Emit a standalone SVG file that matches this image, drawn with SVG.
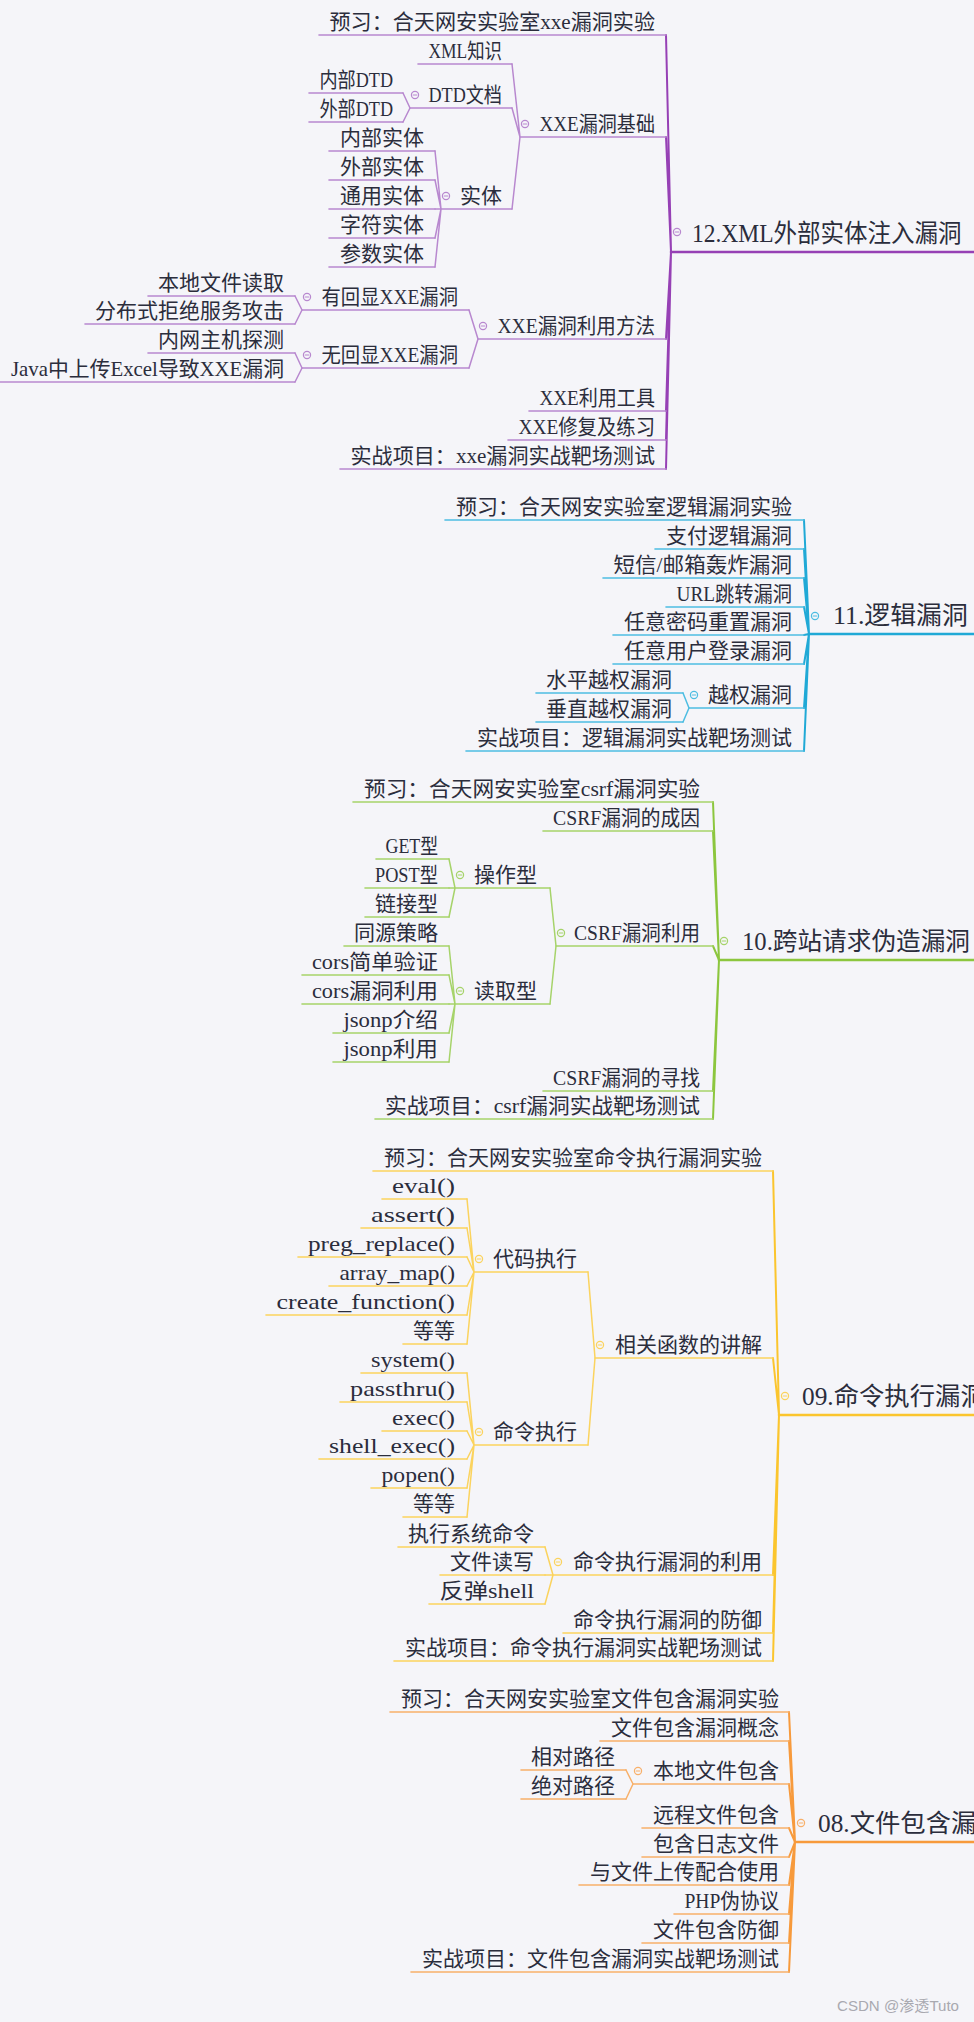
<svg xmlns="http://www.w3.org/2000/svg" xmlns:xlink="http://www.w3.org/1999/xlink" width="974" height="2022" viewBox="0 0 974 2022">
<style>
text{font-family:"Liberation Serif","Noto Sans CJK SC",serif;font-size:21px;fill:#2b2d3c}
text.m{font-size:24.5px}
text.wm{font-family:"Liberation Sans","Noto Sans CJK SC",sans-serif;font-size:15px;fill:#a9a9b0}
line,path{fill:none;stroke-linecap:round}
.k12 .u{stroke:#b888cf;stroke-width:1.6}.k12 .mu{stroke:#9640b5;stroke-width:2.6}.k12 .sp{stroke:#9640b5;stroke-width:2}.k12 .cn{stroke:#b888cf;stroke-width:1.5}.k12 .ci{stroke:#b888cf}
.k11 .u{stroke:#4dbde2;stroke-width:1.6}.k11 .mu{stroke:#20a9d6;stroke-width:2.6}.k11 .sp{stroke:#20a9d6;stroke-width:2}.k11 .cn{stroke:#4dbde2;stroke-width:1.5}.k11 .ci{stroke:#4dbde2}
.k10 .u{stroke:#a6d36a;stroke-width:1.6}.k10 .mu{stroke:#8cc63e;stroke-width:2.6}.k10 .sp{stroke:#8cc63e;stroke-width:2}.k10 .cn{stroke:#a6d36a;stroke-width:1.5}.k10 .ci{stroke:#a6d36a}
.k09 .u{stroke:#fbd35e;stroke-width:1.6}.k09 .mu{stroke:#fbc52e;stroke-width:2.6}.k09 .sp{stroke:#fbc52e;stroke-width:2}.k09 .cn{stroke:#fbd35e;stroke-width:1.5}.k09 .ci{stroke:#fbd35e}
.k08 .u{stroke:#f8b06a;stroke-width:1.6}.k08 .mu{stroke:#f79a3c;stroke-width:2.6}.k08 .sp{stroke:#f79a3c;stroke-width:2}.k08 .cn{stroke:#f8b06a;stroke-width:1.5}.k08 .ci{stroke:#f8b06a}
.ci{fill:none;stroke-width:1.2}
</style>
<defs>
<g id="col"><circle r="3.6"/><path d="M-1.8 0H1.8"/></g>
</defs>
<rect width="974" height="2022" fill="#f5f5f9"/>

<!-- ================= Section 12 ================= -->
<g class="k12">
<g id="connectors-12">
<path class="sp" d="M671 252L666 35M671 252L666 137M671 252L666 339M671 252L666 411M671 252L666 440M671 252L666 469"/>
<path class="cn" d="M520 137L512 64M520 137L512 108M520 137L512 209"/>
<path class="cn" d="M410 108L403 93M410 108L403 122"/>
<path class="cn" d="M441 209L435 151M441 209L435 180M441 209L435 209M441 209L435 238M441 209L435 267"/>
<path class="cn" d="M478 339L469 310M478 339L469 368"/>
<path class="cn" d="M302 310L295 296M302 310L295 324"/>
<path class="cn" d="M302 368L295 353M302 368L295 382"/>
</g>
<g id="n12"><line class="mu" x1="671" y1="252" x2="974" y2="252"/><use href="#col" class="ci" x="677" y="232"/><text class="m" x="692" y="242" textLength="269.5" lengthAdjust="spacingAndGlyphs">12.XML外部实体注入漏洞</text></g>
<g id="n12-pre"><line class="u" x1="319" y1="35" x2="666" y2="35"/><text x="329.5" y="29" textLength="325.5" lengthAdjust="spacingAndGlyphs">预习：合天网安实验室xxe漏洞实验</text></g>
<g id="n12-base"><line class="u" x1="520" y1="137" x2="666" y2="137"/><use href="#col" class="ci" x="525" y="124"/><text x="539.5" y="131" textLength="115.5" lengthAdjust="spacingAndGlyphs">XXE漏洞基础</text></g>
<g id="n12-xml"><line class="u" x1="418" y1="64" x2="512" y2="64"/><text x="428.5" y="58" textLength="73.5" lengthAdjust="spacingAndGlyphs">XML知识</text></g>
<g id="n12-dtd"><line class="u" x1="410" y1="108" x2="512" y2="108"/><use href="#col" class="ci" x="415" y="95"/><text x="428.5" y="102" textLength="73.5" lengthAdjust="spacingAndGlyphs">DTD文档</text></g>
<g id="n12-dtd-in"><line class="u" x1="309" y1="93" x2="403" y2="93"/><text x="319.5" y="87" textLength="73.5" lengthAdjust="spacingAndGlyphs">内部DTD</text></g>
<g id="n12-dtd-out"><line class="u" x1="309" y1="122" x2="403" y2="122"/><text x="319.5" y="116" textLength="73.5" lengthAdjust="spacingAndGlyphs">外部DTD</text></g>
<g id="n12-ent"><line class="u" x1="441" y1="209" x2="512" y2="209"/><use href="#col" class="ci" x="446" y="196"/><text x="460" y="203" textLength="42" lengthAdjust="spacingAndGlyphs">实体</text></g>
<g id="n12-ent1"><line class="u" x1="329" y1="151" x2="435" y2="151"/><text x="340" y="145" textLength="84" lengthAdjust="spacingAndGlyphs">内部实体</text></g>
<g id="n12-ent2"><line class="u" x1="329" y1="180" x2="435" y2="180"/><text x="340" y="174" textLength="84" lengthAdjust="spacingAndGlyphs">外部实体</text></g>
<g id="n12-ent3"><line class="u" x1="329" y1="209" x2="435" y2="209"/><text x="340" y="203" textLength="84" lengthAdjust="spacingAndGlyphs">通用实体</text></g>
<g id="n12-ent4"><line class="u" x1="329" y1="238" x2="435" y2="238"/><text x="340" y="232" textLength="84" lengthAdjust="spacingAndGlyphs">字符实体</text></g>
<g id="n12-ent5"><line class="u" x1="329" y1="267" x2="435" y2="267"/><text x="340" y="261" textLength="84" lengthAdjust="spacingAndGlyphs">参数实体</text></g>
<g id="n12-use"><line class="u" x1="478" y1="339" x2="666" y2="339"/><use href="#col" class="ci" x="483" y="326"/><text x="497.5" y="333" textLength="157.5" lengthAdjust="spacingAndGlyphs">XXE漏洞利用方法</text></g>
<g id="n12-echo"><line class="u" x1="302" y1="310" x2="469" y2="310"/><use href="#col" class="ci" x="307" y="297"/><text x="321.5" y="304" textLength="136.5" lengthAdjust="spacingAndGlyphs">有回显XXE漏洞</text></g>
<g id="n12-echo1"><line class="u" x1="148" y1="296" x2="295" y2="296"/><text x="158" y="290" textLength="126" lengthAdjust="spacingAndGlyphs">本地文件读取</text></g>
<g id="n12-echo2"><line class="u" x1="85" y1="324" x2="295" y2="324"/><text x="95" y="318" textLength="189" lengthAdjust="spacingAndGlyphs">分布式拒绝服务攻击</text></g>
<g id="n12-blind"><line class="u" x1="302" y1="368" x2="469" y2="368"/><use href="#col" class="ci" x="307" y="355"/><text x="321.5" y="362" textLength="136.5" lengthAdjust="spacingAndGlyphs">无回显XXE漏洞</text></g>
<g id="n12-blind1"><line class="u" x1="148" y1="353" x2="295" y2="353"/><text x="158" y="347" textLength="126" lengthAdjust="spacingAndGlyphs">内网主机探测</text></g>
<g id="n12-blind2"><line class="u" x1="0" y1="382" x2="295" y2="382"/><text x="11" y="376" textLength="273" lengthAdjust="spacingAndGlyphs">Java中上传Excel导致XXE漏洞</text></g>
<g id="n12-tool"><line class="u" x1="529" y1="411" x2="666" y2="411"/><text x="539.5" y="405" textLength="115.5" lengthAdjust="spacingAndGlyphs">XXE利用工具</text></g>
<g id="n12-fix"><line class="u" x1="508" y1="440" x2="666" y2="440"/><text x="518.5" y="434" textLength="136.5" lengthAdjust="spacingAndGlyphs">XXE修复及练习</text></g>
<g id="n12-proj"><line class="u" x1="340" y1="469" x2="666" y2="469"/><text x="350.5" y="463" textLength="304.5" lengthAdjust="spacingAndGlyphs">实战项目：xxe漏洞实战靶场测试</text></g>
</g>

<!-- ================= Section 11 ================= -->
<g class="k11">
<g id="connectors-11">
<path class="sp" d="M809 634L804 520M809 634L804 549M809 634L804 578M809 634L804 607M809 634L804 635M809 634L804 664M809 634L804 708M809 634L804 751"/>
<path class="cn" d="M689 708L683 693M689 708L683 722"/>
</g>
<g id="n11"><line class="mu" x1="809" y1="634" x2="974" y2="634"/><use href="#col" class="ci" x="815" y="616"/><text class="m" x="833" y="624" textLength="134.75" lengthAdjust="spacingAndGlyphs">11.逻辑漏洞</text></g>
<g id="n11-pre"><line class="u" x1="445" y1="520" x2="804" y2="520"/><text x="456" y="514" textLength="336" lengthAdjust="spacingAndGlyphs">预习：合天网安实验室逻辑漏洞实验</text></g>
<g id="n11-pay"><line class="u" x1="655" y1="549" x2="804" y2="549"/><text x="666" y="543" textLength="126" lengthAdjust="spacingAndGlyphs">支付逻辑漏洞</text></g>
<g id="n11-sms"><line class="u" x1="603" y1="578" x2="804" y2="578"/><text x="613.5" y="572" textLength="178.5" lengthAdjust="spacingAndGlyphs">短信/邮箱轰炸漏洞</text></g>
<g id="n11-url"><line class="u" x1="666" y1="607" x2="804" y2="607"/><text x="676.5" y="601" textLength="115.5" lengthAdjust="spacingAndGlyphs">URL跳转漏洞</text></g>
<g id="n11-pwd"><line class="u" x1="613" y1="635" x2="804" y2="635"/><text x="624" y="629" textLength="168" lengthAdjust="spacingAndGlyphs">任意密码重置漏洞</text></g>
<g id="n11-login"><line class="u" x1="613" y1="664" x2="804" y2="664"/><text x="624" y="658" textLength="168" lengthAdjust="spacingAndGlyphs">任意用户登录漏洞</text></g>
<g id="n11-priv"><line class="u" x1="689" y1="708" x2="804" y2="708"/><use href="#col" class="ci" x="694" y="695"/><text x="708" y="702" textLength="84" lengthAdjust="spacingAndGlyphs">越权漏洞</text></g>
<g id="n11-priv-h"><line class="u" x1="536" y1="693" x2="683" y2="693"/><text x="546" y="687" textLength="126" lengthAdjust="spacingAndGlyphs">水平越权漏洞</text></g>
<g id="n11-priv-v"><line class="u" x1="536" y1="722" x2="683" y2="722"/><text x="546" y="716" textLength="126" lengthAdjust="spacingAndGlyphs">垂直越权漏洞</text></g>
<g id="n11-proj"><line class="u" x1="466" y1="751" x2="804" y2="751"/><text x="477" y="745" textLength="315" lengthAdjust="spacingAndGlyphs">实战项目：逻辑漏洞实战靶场测试</text></g>
</g>

<!-- ================= Section 10 ================= -->
<g class="k10">
<g id="connectors-10">
<path class="sp" d="M719 960L713 802M719 960L713 831M719 960L713 946M719 960L713 1091M719 960L713 1119"/>
<path class="cn" d="M556 946L550 888M556 946L550 1004"/>
<path class="cn" d="M455 888L449 859M455 888L449 888M455 888L449 917"/>
<path class="cn" d="M455 1004L449 946M455 1004L449 975M455 1004L449 1004M455 1004L449 1033M455 1004L449 1062"/>
</g>
<g id="n10"><line class="mu" x1="719" y1="960" x2="974" y2="960"/><use href="#col" class="ci" x="724" y="941"/><text class="m" x="742" y="950" textLength="228" lengthAdjust="spacingAndGlyphs">10.跨站请求伪造漏洞</text></g>
<g id="n10-pre"><line class="u" x1="353" y1="802" x2="713" y2="802"/><text x="364" y="796" textLength="336" lengthAdjust="spacingAndGlyphs">预习：合天网安实验室csrf漏洞实验</text></g>
<g id="n10-cause"><line class="u" x1="543" y1="831" x2="713" y2="831"/><text x="553" y="825" textLength="147" lengthAdjust="spacingAndGlyphs">CSRF漏洞的成因</text></g>
<g id="n10-use"><line class="u" x1="556" y1="946" x2="713" y2="946"/><use href="#col" class="ci" x="561" y="933"/><text x="574" y="940" textLength="126" lengthAdjust="spacingAndGlyphs">CSRF漏洞利用</text></g>
<g id="n10-op"><line class="u" x1="455" y1="888" x2="550" y2="888"/><use href="#col" class="ci" x="460" y="875"/><text x="474" y="882" textLength="63" lengthAdjust="spacingAndGlyphs">操作型</text></g>
<g id="n10-op1"><line class="u" x1="376" y1="859" x2="449" y2="859"/><text x="385.5" y="853" textLength="52.5" lengthAdjust="spacingAndGlyphs">GET型</text></g>
<g id="n10-op2"><line class="u" x1="365" y1="888" x2="449" y2="888"/><text x="375" y="882" textLength="63" lengthAdjust="spacingAndGlyphs">POST型</text></g>
<g id="n10-op3"><line class="u" x1="365" y1="917" x2="449" y2="917"/><text x="375" y="911" textLength="63" lengthAdjust="spacingAndGlyphs">链接型</text></g>
<g id="n10-rd"><line class="u" x1="455" y1="1004" x2="550" y2="1004"/><use href="#col" class="ci" x="460" y="991"/><text x="474" y="998" textLength="63" lengthAdjust="spacingAndGlyphs">读取型</text></g>
<g id="n10-rd1"><line class="u" x1="344" y1="946" x2="449" y2="946"/><text x="354" y="940" textLength="84" lengthAdjust="spacingAndGlyphs">同源策略</text></g>
<g id="n10-rd2"><line class="u" x1="302" y1="975" x2="449" y2="975"/><text x="312" y="969" textLength="126" lengthAdjust="spacingAndGlyphs">cors简单验证</text></g>
<g id="n10-rd3"><line class="u" x1="302" y1="1004" x2="449" y2="1004"/><text x="312" y="998" textLength="126" lengthAdjust="spacingAndGlyphs">cors漏洞利用</text></g>
<g id="n10-rd4"><line class="u" x1="333" y1="1033" x2="449" y2="1033"/><text x="343.5" y="1027" textLength="94.5" lengthAdjust="spacingAndGlyphs">jsonp介绍</text></g>
<g id="n10-rd5"><line class="u" x1="333" y1="1062" x2="449" y2="1062"/><text x="343.5" y="1056" textLength="94.5" lengthAdjust="spacingAndGlyphs">jsonp利用</text></g>
<g id="n10-find"><line class="u" x1="543" y1="1091" x2="713" y2="1091"/><text x="553" y="1085" textLength="147" lengthAdjust="spacingAndGlyphs">CSRF漏洞的寻找</text></g>
<g id="n10-proj"><line class="u" x1="375" y1="1119" x2="713" y2="1119"/><text x="385" y="1113" textLength="315" lengthAdjust="spacingAndGlyphs">实战项目：csrf漏洞实战靶场测试</text></g>
</g>

<!-- ================= Section 09 ================= -->
<g class="k09">
<g id="connectors-09">
<path class="sp" d="M779 1415L773 1171M779 1415L773 1358M779 1415L773 1575M779 1415L773 1633M779 1415L773 1661"/>
<path class="cn" d="M595 1358L588 1272M595 1358L588 1445"/>
<path class="cn" d="M474 1272L467 1199M474 1272L467 1228M474 1272L467 1257M474 1272L467 1286M474 1272L467 1315M474 1272L467 1344"/>
<path class="cn" d="M474 1445L467 1373M474 1445L467 1402M474 1445L467 1431M474 1445L467 1459M474 1445L467 1488M474 1445L467 1517"/>
<path class="cn" d="M553 1575L545 1547M553 1575L545 1575M553 1575L545 1604"/>
</g>
<g id="n09"><line class="mu" x1="779" y1="1415" x2="974" y2="1415"/><use href="#col" class="ci" x="785" y="1396"/><text class="m" x="802" y="1405" textLength="183.75" lengthAdjust="spacingAndGlyphs">09.命令执行漏洞</text></g>
<g id="n09-pre"><line class="u" x1="373" y1="1171" x2="773" y2="1171"/><text x="384" y="1165" textLength="378" lengthAdjust="spacingAndGlyphs">预习：合天网安实验室命令执行漏洞实验</text></g>
<g id="n09-func"><line class="u" x1="595" y1="1358" x2="773" y2="1358"/><use href="#col" class="ci" x="600" y="1345"/><text x="615" y="1352" textLength="147" lengthAdjust="spacingAndGlyphs">相关函数的讲解</text></g>
<g id="n09-code"><line class="u" x1="474" y1="1272" x2="588" y2="1272"/><use href="#col" class="ci" x="479" y="1259"/><text x="493" y="1266" textLength="84" lengthAdjust="spacingAndGlyphs">代码执行</text></g>
<g id="n09-c1"><line class="u" x1="382" y1="1199" x2="467" y2="1199"/><text x="392" y="1193" textLength="63" lengthAdjust="spacingAndGlyphs">eval()</text></g>
<g id="n09-c2"><line class="u" x1="361" y1="1228" x2="467" y2="1228"/><text x="371" y="1222" textLength="84" lengthAdjust="spacingAndGlyphs">assert()</text></g>
<g id="n09-c3"><line class="u" x1="298" y1="1257" x2="467" y2="1257"/><text x="308" y="1251" textLength="147" lengthAdjust="spacingAndGlyphs">preg_replace()</text></g>
<g id="n09-c4"><line class="u" x1="329" y1="1286" x2="467" y2="1286"/><text x="339.5" y="1280" textLength="115.5" lengthAdjust="spacingAndGlyphs">array_map()</text></g>
<g id="n09-c5"><line class="u" x1="266" y1="1315" x2="467" y2="1315"/><text x="276.5" y="1309" textLength="178.5" lengthAdjust="spacingAndGlyphs">create_function()</text></g>
<g id="n09-c6"><line class="u" x1="403" y1="1344" x2="467" y2="1344"/><text x="413" y="1338" textLength="42" lengthAdjust="spacingAndGlyphs">等等</text></g>
<g id="n09-cmd"><line class="u" x1="474" y1="1445" x2="588" y2="1445"/><use href="#col" class="ci" x="479" y="1432"/><text x="493" y="1439" textLength="84" lengthAdjust="spacingAndGlyphs">命令执行</text></g>
<g id="n09-m1"><line class="u" x1="361" y1="1373" x2="467" y2="1373"/><text x="371" y="1367" textLength="84" lengthAdjust="spacingAndGlyphs">system()</text></g>
<g id="n09-m2"><line class="u" x1="340" y1="1402" x2="467" y2="1402"/><text x="350" y="1396" textLength="105" lengthAdjust="spacingAndGlyphs">passthru()</text></g>
<g id="n09-m3"><line class="u" x1="382" y1="1431" x2="467" y2="1431"/><text x="392" y="1425" textLength="63" lengthAdjust="spacingAndGlyphs">exec()</text></g>
<g id="n09-m4"><line class="u" x1="319" y1="1459" x2="467" y2="1459"/><text x="329" y="1453" textLength="126" lengthAdjust="spacingAndGlyphs">shell_exec()</text></g>
<g id="n09-m5"><line class="u" x1="371" y1="1488" x2="467" y2="1488"/><text x="381.5" y="1482" textLength="73.5" lengthAdjust="spacingAndGlyphs">popen()</text></g>
<g id="n09-m6"><line class="u" x1="403" y1="1517" x2="467" y2="1517"/><text x="413" y="1511" textLength="42" lengthAdjust="spacingAndGlyphs">等等</text></g>
<g id="n09-exp"><line class="u" x1="553" y1="1575" x2="773" y2="1575"/><use href="#col" class="ci" x="558" y="1562"/><text x="573" y="1569" textLength="189" lengthAdjust="spacingAndGlyphs">命令执行漏洞的利用</text></g>
<g id="n09-e1"><line class="u" x1="398" y1="1547" x2="545" y2="1547"/><text x="408" y="1541" textLength="126" lengthAdjust="spacingAndGlyphs">执行系统命令</text></g>
<g id="n09-e2"><line class="u" x1="440" y1="1575" x2="545" y2="1575"/><text x="450" y="1569" textLength="84" lengthAdjust="spacingAndGlyphs">文件读写</text></g>
<g id="n09-e3"><line class="u" x1="429" y1="1604" x2="545" y2="1604"/><text x="439.5" y="1598" textLength="94.5" lengthAdjust="spacingAndGlyphs">反弹shell</text></g>
<g id="n09-def"><line class="u" x1="563" y1="1633" x2="773" y2="1633"/><text x="573" y="1627" textLength="189" lengthAdjust="spacingAndGlyphs">命令执行漏洞的防御</text></g>
<g id="n09-proj"><line class="u" x1="394" y1="1661" x2="773" y2="1661"/><text x="405" y="1655" textLength="357" lengthAdjust="spacingAndGlyphs">实战项目：命令执行漏洞实战靶场测试</text></g>
</g>

<!-- ================= Section 08 ================= -->
<g class="k08">
<g id="connectors-08">
<path class="sp" d="M795 1842L789 1712M795 1842L789 1741M795 1842L789 1784M795 1842L789 1828M795 1842L789 1857M795 1842L789 1885M795 1842L789 1914M795 1842L789 1943M795 1842L789 1972"/>
<path class="cn" d="M633 1784L626 1770M633 1784L626 1799"/>
</g>
<g id="n08"><line class="mu" x1="795" y1="1842" x2="974" y2="1842"/><use href="#col" class="ci" x="801" y="1823"/><text class="m" x="818" y="1832" textLength="183.75" lengthAdjust="spacingAndGlyphs">08.文件包含漏洞</text></g>
<g id="n08-pre"><line class="u" x1="390" y1="1712" x2="789" y2="1712"/><text x="401" y="1706" textLength="378" lengthAdjust="spacingAndGlyphs">预习：合天网安实验室文件包含漏洞实验</text></g>
<g id="n08-concept"><line class="u" x1="600" y1="1741" x2="789" y2="1741"/><text x="611" y="1735" textLength="168" lengthAdjust="spacingAndGlyphs">文件包含漏洞概念</text></g>
<g id="n08-local"><line class="u" x1="633" y1="1784" x2="789" y2="1784"/><use href="#col" class="ci" x="638" y="1771"/><text x="653" y="1778" textLength="126" lengthAdjust="spacingAndGlyphs">本地文件包含</text></g>
<g id="n08-rel"><line class="u" x1="521" y1="1770" x2="626" y2="1770"/><text x="531" y="1764" textLength="84" lengthAdjust="spacingAndGlyphs">相对路径</text></g>
<g id="n08-abs"><line class="u" x1="521" y1="1799" x2="626" y2="1799"/><text x="531" y="1793" textLength="84" lengthAdjust="spacingAndGlyphs">绝对路径</text></g>
<g id="n08-remote"><line class="u" x1="642" y1="1828" x2="789" y2="1828"/><text x="653" y="1822" textLength="126" lengthAdjust="spacingAndGlyphs">远程文件包含</text></g>
<g id="n08-log"><line class="u" x1="642" y1="1857" x2="789" y2="1857"/><text x="653" y="1851" textLength="126" lengthAdjust="spacingAndGlyphs">包含日志文件</text></g>
<g id="n08-upload"><line class="u" x1="579" y1="1885" x2="789" y2="1885"/><text x="590" y="1879" textLength="189" lengthAdjust="spacingAndGlyphs">与文件上传配合使用</text></g>
<g id="n08-php"><line class="u" x1="674" y1="1914" x2="789" y2="1914"/><text x="684.5" y="1908" textLength="94.5" lengthAdjust="spacingAndGlyphs">PHP伪协议</text></g>
<g id="n08-def"><line class="u" x1="642" y1="1943" x2="789" y2="1943"/><text x="653" y="1937" textLength="126" lengthAdjust="spacingAndGlyphs">文件包含防御</text></g>
<g id="n08-proj"><line class="u" x1="411" y1="1972" x2="789" y2="1972"/><text x="422" y="1966" textLength="357" lengthAdjust="spacingAndGlyphs">实战项目：文件包含漏洞实战靶场测试</text></g>
</g>

<text class="wm" x="837" y="2011" textLength="122" lengthAdjust="spacingAndGlyphs">CSDN @渗透Tuto</text>
</svg>
